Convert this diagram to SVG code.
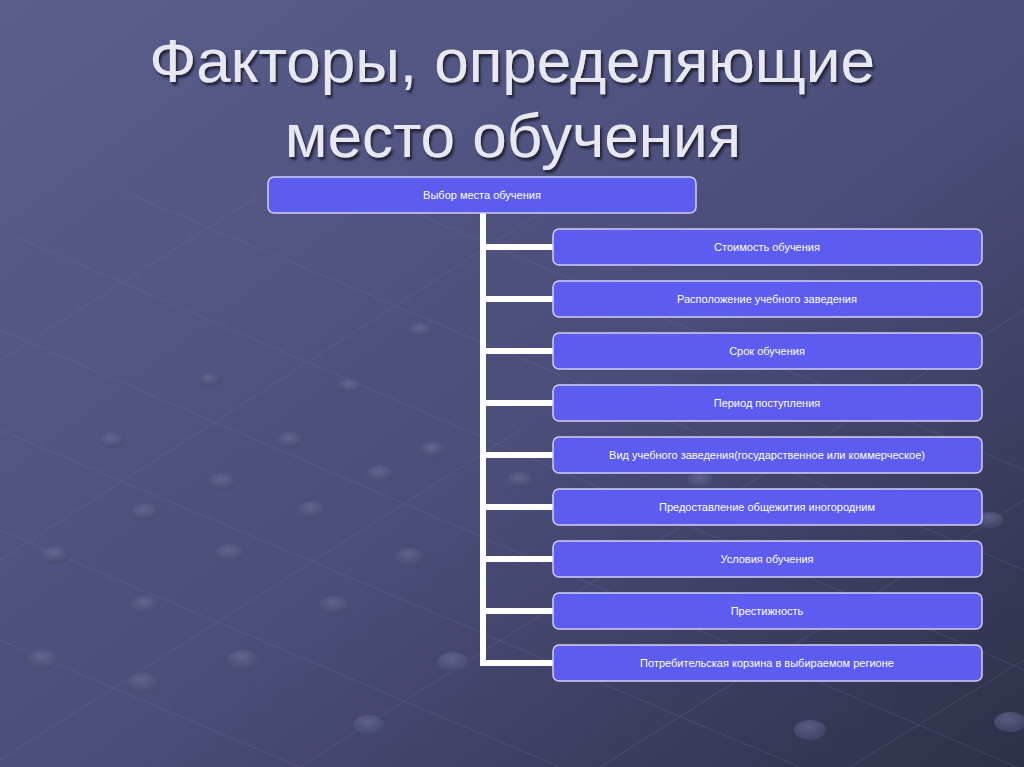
<svg xmlns="http://www.w3.org/2000/svg" width="1024" height="767" viewBox="0 0 1024 767">
<defs>
<linearGradient id="bg" x1="0" y1="0" x2="1" y2="1">
<stop offset="0" stop-color="#5a5e8c"/>
<stop offset="0.55" stop-color="#4a4d78"/>
<stop offset="1" stop-color="#2e2f48"/>
</linearGradient>
<radialGradient id="dot" cx="0.45" cy="0.35" r="0.6">
<stop offset="0" stop-color="#6a6e98"/>
<stop offset="1" stop-color="#484b70"/>
</radialGradient>
<filter id="sh" x="-5%" y="-5%" width="110%" height="120%">
<feDropShadow dx="2" dy="3" stdDeviation="1" flood-color="#1a1b30" flood-opacity="0.9"/>
</filter>
</defs>
<style>
.title{font-family:"Liberation Sans",Arial,sans-serif;font-size:62px;fill:#e8e8f2;text-anchor:middle}
.node rect{fill:#5c5cf0;stroke:#cfcff5;stroke-width:1.5}
.node text{font-family:"Liberation Sans",Arial,sans-serif;font-size:11px;fill:#ffffff;text-anchor:middle}
.grid line{stroke:#7478a4;stroke-width:1;opacity:0.25}
.grid ellipse{fill:url(#dot);opacity:0.7}
.conn rect{fill:#ffffff}
</style>
<rect width="1024" height="767" fill="url(#bg)"/>
<g class="grid">
<line x1="0" y1="330" x2="1024" y2="770"/>
<line x1="0" y1="430" x2="800" y2="767"/>
<line x1="0" y1="530" x2="560" y2="767"/>
<line x1="0" y1="230" x2="1024" y2="670"/>
<line x1="120" y1="190" x2="1024" y2="570"/>
<line x1="360" y1="190" x2="1024" y2="470"/>
<line x1="0" y1="640" x2="300" y2="767"/>
<line x1="0" y1="760" x2="520" y2="430"/>
<line x1="300" y1="767" x2="1024" y2="310"/>
<line x1="0" y1="560" x2="560" y2="200"/>
<line x1="600" y1="767" x2="1024" y2="500"/>
<line x1="0" y1="360" x2="260" y2="195"/>
<line x1="850" y1="767" x2="1024" y2="660"/>
<ellipse cx="143" cy="683" rx="16" ry="10"/>
<ellipse cx="43" cy="660" rx="16" ry="10"/>
<ellipse cx="243" cy="660" rx="16" ry="10"/>
<ellipse cx="369" cy="725" rx="16" ry="10"/>
<ellipse cx="453" cy="662" rx="16" ry="10"/>
<ellipse cx="145" cy="605" rx="15" ry="9"/>
<ellipse cx="334" cy="605" rx="15" ry="9"/>
<ellipse cx="230" cy="553" rx="15" ry="9"/>
<ellipse cx="55" cy="555" rx="15" ry="9"/>
<ellipse cx="410" cy="557" rx="15" ry="9"/>
<ellipse cx="145" cy="512" rx="14" ry="9"/>
<ellipse cx="312" cy="510" rx="14" ry="9"/>
<ellipse cx="222" cy="482" rx="14" ry="9"/>
<ellipse cx="380" cy="474" rx="14" ry="9"/>
<ellipse cx="290" cy="440" rx="13" ry="8"/>
<ellipse cx="433" cy="450" rx="13" ry="8"/>
<ellipse cx="112" cy="440" rx="13" ry="8"/>
<ellipse cx="350" cy="386" rx="12" ry="7"/>
<ellipse cx="210" cy="380" rx="12" ry="7"/>
<ellipse cx="420" cy="330" rx="12" ry="7"/>
<ellipse cx="810" cy="730" rx="16" ry="10"/>
<ellipse cx="1010" cy="722" rx="16" ry="10"/>
<ellipse cx="990" cy="520" rx="13" ry="8"/>
<ellipse cx="700" cy="480" rx="13" ry="8"/>
<ellipse cx="520" cy="480" rx="13" ry="8"/>
</g>
<g id="title" filter="url(#sh)">
<text class="title" x="512" y="82">Факторы, определяющие</text>
<text class="title" x="513" y="157">место обучения</text>
</g>
<g id="connectors" class="conn">
<rect x="480" y="212" width="6" height="454"/>
<rect x="480" y="244" width="74" height="6"/>
<rect x="480" y="296" width="74" height="6"/>
<rect x="480" y="348" width="74" height="6"/>
<rect x="480" y="400" width="74" height="6"/>
<rect x="480" y="452" width="74" height="6"/>
<rect x="480" y="504" width="74" height="6"/>
<rect x="480" y="556" width="74" height="6"/>
<rect x="480" y="608" width="74" height="6"/>
<rect x="480" y="660" width="74" height="6"/>
</g>
<g id="root" class="node"><rect x="268" y="177" width="428" height="36" rx="6"/><text x="482" y="199">Выбор места обучения</text></g>
<g id="n1" class="node"><rect x="553" y="229" width="429" height="36" rx="6"/><text x="767" y="251">Стоимость обучения</text></g>
<g id="n2" class="node"><rect x="553" y="281" width="429" height="36" rx="6"/><text x="767" y="303">Расположение учебного заведения</text></g>
<g id="n3" class="node"><rect x="553" y="333" width="429" height="36" rx="6"/><text x="767" y="355">Срок обучения</text></g>
<g id="n4" class="node"><rect x="553" y="385" width="429" height="36" rx="6"/><text x="767" y="407">Период поступления</text></g>
<g id="n5" class="node"><rect x="553" y="437" width="429" height="36" rx="6"/><text x="767" y="459">Вид учебного заведения(государственное или коммерческое)</text></g>
<g id="n6" class="node"><rect x="553" y="489" width="429" height="36" rx="6"/><text x="767" y="511">Предоставление общежития иногородним</text></g>
<g id="n7" class="node"><rect x="553" y="541" width="429" height="36" rx="6"/><text x="767" y="563">Условия обучения</text></g>
<g id="n8" class="node"><rect x="553" y="593" width="429" height="36" rx="6"/><text x="767" y="615">Престижность</text></g>
<g id="n9" class="node"><rect x="553" y="645" width="429" height="36" rx="6"/><text x="767" y="667">Потребительская корзина в выбираемом регионе</text></g>
</svg>
